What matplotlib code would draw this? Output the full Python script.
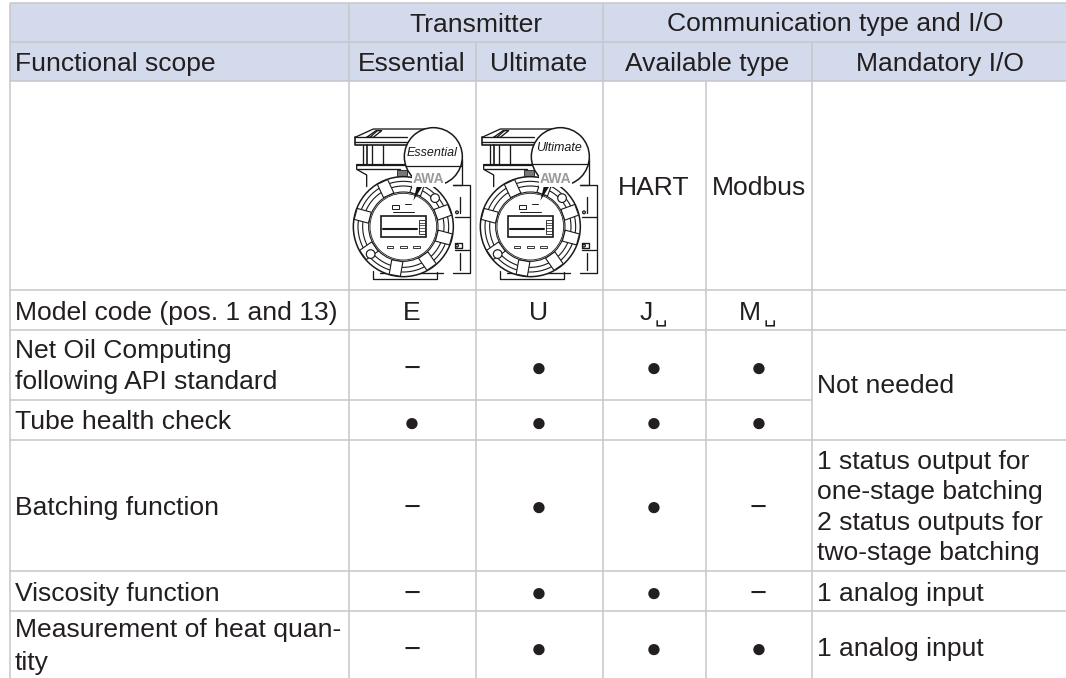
import numpy as np
import matplotlib
matplotlib.use("Agg")
import matplotlib.pyplot as plt
from matplotlib.patches import Rectangle, Circle, Polygon
from matplotlib import transforms

FONT = ["Liberation Sans", "DejaVu Sans"]
plt.rcParams["font.family"] = FONT

header_top = ["Transmitter", "Communication type and I/O"]
header_sub = ["Functional scope", "Essential", "Ultimate", "Available type", "Mandatory I/O"]
comm_types = ["HART", "Modbus"]
model_codes = ["E", "U", "J", "M"]
model_label = "Model code (pos. 1 and 13)"
functions = ["Net Oil Computing\nfollowing API standard", "Tube health check",
             "Batching function", "Viscosity function",
             "Measurement of heat quan-\ntity"]
support = [["-", "o", "o", "o"],
           ["o", "o", "o", "o"],
           ["-", "o", "o", "-"],
           ["-", "o", "o", "-"],
           ["-", "o", "o", "o"]]
mandatory = ["Not needed", "1 status output for\none-stage batching\n2 status outputs for\ntwo-stage batching",
             "1 analog input", "1 analog input"]

W, H = 1066, 678
TXT = "#231f20"
LINE = "#c6c8cc"
HEAD = "#d3daec"
FS = 19.05

col_x = [10, 348.5, 475.5, 602.5, 706, 812, 1068]
row_y = [2.5, 41.5, 81, 289.5, 330, 400, 439.5, 571, 611, 678]

fig = plt.figure(figsize=(W / 100, H / 100), dpi=100)
ax = fig.add_axes([0, 0, 1, 1])
ax.set_xlim(0, W)
ax.set_ylim(H, 0)
ax.axis("off")

ax.add_patch(Rectangle((col_x[0], row_y[0]), W - col_x[0], row_y[2] - row_y[0], fc=HEAD, ec="none", zorder=0))


def hl(y, x0=col_x[0], x1=W, lw=1.15):
    ax.plot([x0, x1], [y, y], color=LINE, lw=lw, solid_capstyle="butt", zorder=1)


def vl(x, y0, y1=H, lw=1.15):
    ax.plot([x, x], [y0, y1], color=LINE, lw=lw, solid_capstyle="butt", zorder=1)


for y in row_y[:5] + row_y[6:-1]:
    hl(y)
hl(row_y[5], col_x[0], col_x[5])
vl(col_x[0], row_y[0])
vl(col_x[1], row_y[0])
vl(col_x[2], row_y[1])
vl(col_x[3], row_y[0])
vl(col_x[4], row_y[2])
vl(col_x[5], row_y[1])


def t(x, y, s, ha="left", size=FS, **kw):
    return ax.text(x, y, s, ha=ha, va="baseline", fontsize=size, color=TXT, family=FONT, **kw)


col_mid = [412, 538.5, 654, 758.5]

t(475.5, 31.5, header_top[0], "center")
t(835, 31.5, header_top[1], "center")
t(15, 70.7, header_sub[0])
t(412, 70.7, header_sub[1], "center")
t(538.5, 70.7, header_sub[2], "center")
t(707, 70.7, header_sub[3], "center")
t(940, 70.7, header_sub[4], "center")

t(col_mid[2], 195, comm_types[0], "center")
t(col_mid[3], 195, comm_types[1], "center")

t(15, 320, model_label)
t(col_mid[0], 320, model_codes[0], "center")
t(col_mid[1], 320, model_codes[1], "center")
t(646, 320, model_codes[2], "center")
t(750, 320, model_codes[3], "center")
for bx in (661, 770):
    ax.text(bx, 322.5, "\u2423", ha="center", va="baseline", fontsize=14, color=TXT, family=FONT)


def multiline(x, first, s, step=30.6, ha="left"):
    for i, part in enumerate(s.split("\n")):
        t(x, first + i * step, part, ha)


func_base = [358, 429, 515, 600.7, 637]
mark_y = [367, 422, 506, 592, 648]
for name, base, marks, my in zip(functions, func_base, support, mark_y):
    multiline(15, base, name, step=31 if "Net" in name else 33)
    for x, m in zip(col_mid, marks):
        if m == "o":
            ax.text(x, my - 1, "\u25cf", ha="center", va="center_baseline", fontsize=19, color=TXT, family=FONT)
        else:
            ax.text(x, my - 1, "\u2212", ha="center", va="center_baseline", fontsize=21, color=TXT, family=FONT)

for s, b in zip(mandatory, [393, 469, 600.7, 655.7]):
    multiline(817, b, s, step=30.4)


# ---- transmitter illustration: drawn in a local frame (3x pixel units) ----
def draw_transmitter(dx, caption, cap_y, line_y):
    base = transforms.Affine2D().scale(1 / 3).translate(340 + dx, 0) + ax.transData
    k = dict(color="#1a1a1a", transform=base, solid_capstyle="round")
    S = 0.95

    def pl(xs, ys, lw=S, z=3):
        ax.plot(xs, ys, lw=lw, zorder=z, **k)

    # housing cap
    pl([45, 100, 290, 290], [412, 387, 387, 400])
    pl([45, 45, 200], [412, 435, 435], lw=1.2)
    pl([45, 200], [412, 412])
    pl([45, 200], [425, 425])
    pl([80, 108, 125, 100, 80], [412, 392, 392, 412, 412])
    pl([90, 112], [412, 392])
    pl([68, 68], [435, 495])
    pl([80, 80], [435, 495], lw=1.2)
    pl([95, 95], [435, 495])
    pl([128, 128], [435, 495])
    pl([50, 195], [495, 495], lw=1.6)
    pl([50, 50, 80, 80], [495, 508, 525, 560])
    pl([50, 180], [508, 508])
    pl([365, 365, 340], [478, 555, 555])
    pl([340, 390, 390, 345], [555, 555, 650, 650])
    pl([390, 390, 345], [652, 750, 750])
    pl([390, 390, 340], [752, 818, 818])
    pl([360, 360], [590, 640])
    pl([360, 360], [760, 810])
    pl([345, 365, 365, 345, 345], [728, 728, 745, 745, 728])
    pl([100, 100, 290, 290], [812, 838, 838, 815])
    pl([120, 310], [818, 818])
    ax.add_patch(Circle((351, 637), 4, fc="white", ec="#1a1a1a", lw=S, transform=base, zorder=4))
    ax.add_patch(Circle((351, 737), 4, fc="white", ec="#1a1a1a", lw=S, transform=base, zorder=4))

    # round front
    cx, cy = 190, 680
    ax.add_patch(Circle((cx, cy), 150, fc="white", ec="#1a1a1a", lw=1.1, transform=base, zorder=3.1))
    for r in (136, 122, 104):
        ax.add_patch(Circle((cx, cy), r, fc="none", ec="#1a1a1a", lw=0.8, transform=base, zorder=3.2))
    for ang in (20, 70, 115, 165, 215, 260, 305, 345):
        a = np.deg2rad(ang)
        u, v = np.cos(a), -np.sin(a)
        px, py = -v, u
        corners = [(cx + u * r + px * s, cy + v * r + py * s)
                   for r, s in ((104, -17), (148, -17), (148, 17), (104, 17))]
        ax.add_patch(Polygon(corners, closed=True, fc="white", ec="#1a1a1a", lw=0.8, transform=base, zorder=3.3))
    for ang in (42, 220):
        a = np.deg2rad(ang)
        ax.add_patch(Circle((cx + 128 * np.cos(a), cy - 128 * np.sin(a)), 13, fc="white", ec="#1a1a1a",
                            lw=0.85, transform=base, zorder=3.4))
    # face plate
    ax.add_patch(Circle((cx, cy), 100, fc="white", ec="#1a1a1a", lw=0.6, transform=base, zorder=3.5))
    ax.add_patch(Rectangle((122, 648), 136, 64, fc="white", ec="#1a1a1a", lw=1.2, transform=base, zorder=3.6))
    ax.add_patch(Rectangle((236, 660), 18, 42, fc="white", ec="#1a1a1a", lw=0.6, transform=base, zorder=3.7))
    for yy in (668, 676, 684, 692):
        pl([236, 254], [yy, yy], lw=0.5, z=3.8)
    pl([130, 232], [686, 686], lw=1.5, z=3.8)
    ax.add_patch(Rectangle((156, 616), 22, 12, fc="white", ec="#1a1a1a", lw=0.7, transform=base, zorder=3.7))
    for xx in (150, 190, 230):
        ax.add_patch(Rectangle((xx - 10, 737), 20, 7, fc="white", ec="#1a1a1a", lw=0.6, transform=base, zorder=3.7))
    pl([160, 222], [636, 636], lw=0.7, z=3.8)
    pl([196, 214], [612, 612], lw=0.7, z=3.8)

    # gland
    ax.add_patch(Rectangle((172, 510), 28, 24, fc="#777777", ec="#1a1a1a", lw=0.6, transform=base, zorder=2.5))
    # pointer and magnifier
    ax.add_patch(Polygon([(235, 540), (254, 548), (220, 602)], closed=True, fc="#111111", ec="none",
                         transform=base, zorder=4.5))
    ax.add_patch(Circle((280, 470), 87, fc="white", ec="#1a1a1a", lw=1.1, transform=base, zorder=5))
    half = np.sqrt(max(87 ** 2 - (line_y - 470) ** 2, 0))
    ax.plot([280 - half, 280 + half], [line_y, line_y], color="#1a1a1a", lw=0.9, transform=base, zorder=5.1)
    ax.text(277, cap_y, caption, ha="center", va="baseline", fontsize=9.0, style="italic",
            color="#1a1a1a", transform=base, zorder=5.2, family=FONT)
    # brand letters over the lower magnifier edge
    ax.text(265, 550, "AWA", ha="center", va="baseline", fontsize=10, fontweight="bold", color="#9a9a9a",
            transform=base, zorder=6, family=FONT,
            bbox=dict(fc="white", ec="none", pad=0.5))


draw_transmitter(0, header_sub[1], 468, 497)
draw_transmitter(127, header_sub[2], 453, 492)

fig.savefig("out.png", dpi=100)
